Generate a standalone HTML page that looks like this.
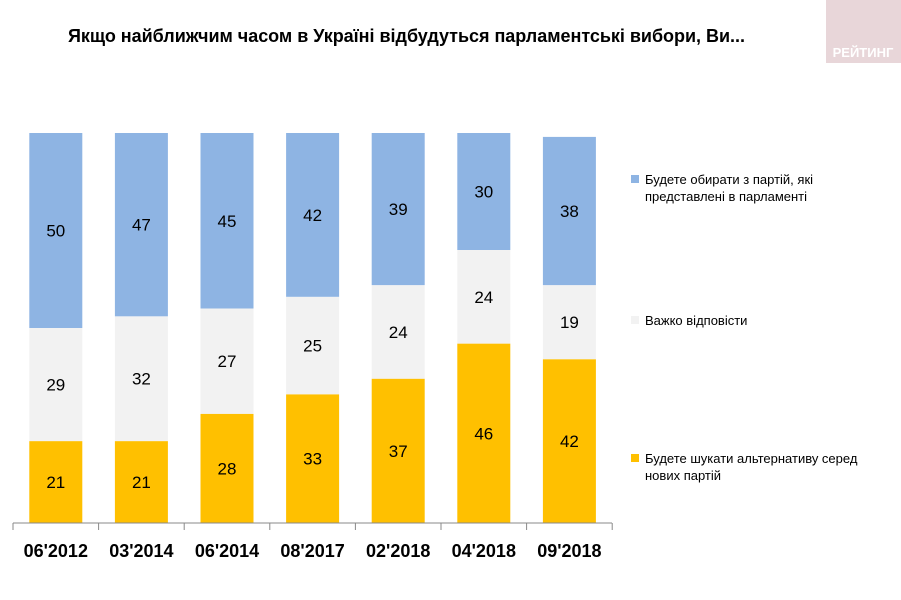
<!DOCTYPE html>
<html><head><meta charset="utf-8"><style>
body{margin:0;background:#fff;}
svg{display:block;font-family:"Liberation Sans",sans-serif;}
</style></head><body>
<svg id="c" width="901" height="600">
<rect x="826" y="0" width="75" height="63" fill="#e8d6d9"/>
<text x="863" y="57" text-anchor="middle" font-size="13" font-weight="bold" fill="#fff">РЕЙТИНГ</text>
<text x="68" y="42" font-size="18" font-weight="bold" fill="#000" textLength="677">Якщо найближчим часом в Україні відбудуться парламентські вибори, Ви...</text>
<g id="bars"></g>
<line x1="13" y1="523" x2="612" y2="523" stroke="#888" stroke-width="1"/>
<g id="legend">
<rect x="631" y="175" width="8" height="8" fill="#8eb4e3"/>
<text x="645" y="184" font-size="13" fill="#000"><tspan x="645">Будете обирати з партій, які</tspan><tspan x="645" dy="17">представлені в парламенті</tspan></text>
<rect x="631" y="316" width="8" height="8" fill="#f2f2f2"/>
<text x="645" y="325" font-size="13" fill="#000">Важко відповісти</text>
<rect x="631" y="454" width="8" height="8" fill="#ffc000"/>
<text x="645" y="463" font-size="13" fill="#000"><tspan x="645">Будете шукати альтернативу серед</tspan><tspan x="645" dy="17">нових партій</tspan></text>
</g>
</svg>
<script>
const categories=["06'2012","03'2014","06'2014","08'2017","02'2018","04'2018","09'2018"];
const seriesNew=[21,21,28,33,37,46,42];
const seriesHard=[29,32,27,25,24,24,19];
const seriesParl=[50,47,45,42,39,30,38];
const ns="http://www.w3.org/2000/svg";
const g=document.getElementById('bars');
const x0=13,step=85.6,bw=53,yBase=523,unit=3.9;
function xc(i){return x0+step*(i+0.5);}
function yv(v){return yBase-v*unit;}
const layers=[[seriesNew,'#ffc000','new'],[seriesHard,'#f2f2f2','hard'],[seriesParl,'#8eb4e3','parliament']];
categories.forEach((c,i)=>{
  let cum=0;
  layers.forEach(([arr,col,nm])=>{
    const v=arr[i];
    const r=document.createElementNS(ns,'rect');
    r.setAttribute('x',xc(i)-bw/2);r.setAttribute('y',yv(cum+v));
    r.setAttribute('width',bw);r.setAttribute('height',v*unit);r.setAttribute('fill',col);
    
    
    g.appendChild(r);
    const t=document.createElementNS(ns,'text');
    t.setAttribute('x',xc(i));t.setAttribute('y',yv(cum+v/2)+6);
    t.setAttribute('text-anchor','middle');t.setAttribute('font-size','17');
    t.textContent=v;
    
    
    g.appendChild(t);
    cum+=v;
  });
  const l=document.createElementNS(ns,'text');
  l.setAttribute('x',xc(i));l.setAttribute('y',557);l.setAttribute('text-anchor','middle');
  l.setAttribute('font-size','18');l.setAttribute('font-weight','bold');l.textContent=c;
  
  
  g.appendChild(l);
});
for(let i=0;i<=categories.length;i++){
  const tk=document.createElementNS(ns,'line');
  tk.setAttribute('x1',x0+step*i);tk.setAttribute('x2',x0+step*i);
  tk.setAttribute('y1',523);tk.setAttribute('y2',530);tk.setAttribute('stroke','#888');
  
  
  g.appendChild(tk);
}
</script>
</body></html>
